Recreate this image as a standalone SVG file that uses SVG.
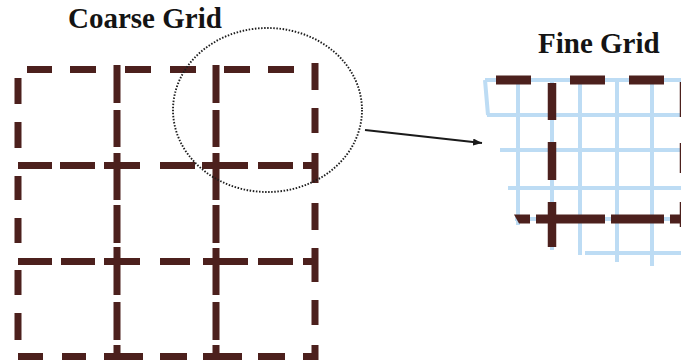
<svg xmlns="http://www.w3.org/2000/svg" width="681" height="362" viewBox="0 0 681 362">
  <defs>
    <style>
      .title { font-family: "Liberation Serif", "Times New Roman", serif; font-weight: bold; font-size: 29px; fill: #141414; }
      .bar { stroke: #4c201d; stroke-linecap: butt; fill: none; }
      .h { stroke-width: 7; }
      .v { stroke-width: 7; }
      .fh { stroke-width: 9; }
      .fv { stroke-width: 8.5; }
      .fine { stroke: #bddcf4; stroke-width: 4; fill: none; }
      .lens { fill: none; stroke: #1e1e1e; stroke-width: 1.9; stroke-dasharray: 1.5 1.6; }
      .conn { stroke: #1a1a1a; stroke-width: 1.8; fill: none; }
    </style>
    <marker id="arrowhead" markerUnits="userSpaceOnUse" markerWidth="10" markerHeight="8" refX="9" refY="3.5" orient="auto">
      <path d="M0,0 L9,3.5 L0,7 z" fill="#1a1a1a"/>
    </marker>
  </defs>

  <rect width="681" height="362" fill="#ffffff"/>

  <!-- headings -->
  <g id="coarse-title">
    <text class="title" x="68" y="28">Coarse Grid</text>
  </g>
  <g id="fine-title">
    <text class="title" x="538" y="53">Fine Grid</text>
  </g>

  <!-- coarse mesh: dashed cell boundaries -->
  <g id="coarse-grid" class="bar">
    <!-- horizontal rows -->
    <path class="h" d="M27,69.5H52 M70,69.5H96 M125,69.5H151 M170,69.5H196 M224,69.5H250 M268,69.5H294"/>
    <path class="h" d="M18,165.5H52 M60,165.5H95 M104,165.5H140 M160,165.5H195 M202,165.5H248 M258,165.5H293 M303,165.5H316"/>
    <path class="h" d="M18,261.5H52 M61,261.5H95 M104,261.5H140 M160,261.5H190 M203,261.5H248 M258,261.5H293 M303,261.5H316"/>
    <path class="h" d="M18,356.5H43 M62,356.5H86 M104,356.5H143 M160,356.5H187 M203,356.5H242 M258,356.5H285 M303,356.5H318"/>
    <!-- vertical columns -->
    <path class="v" d="M18,78V104 M18,122V148 M18,176V200 M18,218V243 M18,270V295 M18,313V340"/>
    <path class="v" d="M117,65V103 M117,110V147 M117,153V200 M117,205V243 M117,247V295 M117,302V340 M117,345V358"/>
    <path class="v" d="M216,65V103 M216,110V147 M216,153V200 M216,205V243 M216,248V295 M216,302V340 M216,345V358"/>
    <path class="v" d="M315,63V90 M315,108V133 M315,153V183 M315,203V230 M315,248V282 M315,300V325 M315,345V360"/>
  </g>

  <!-- zoom lens around the upper-right cell -->
  <g id="lens">
    <ellipse class="lens" cx="267.5" cy="110" rx="94.5" ry="82"/>
  </g>

  <!-- refined mesh -->
  <g id="fine-grid">
    <g class="fine">
      <path d="M485,80H681 M487,115H681 M500,150H681 M508,188H681 M515,219H681 M585,253H681"/>
      <path d="M485,80L488,115 M518,80V225 M552,80V250 M580,80V255 M617,80V262 M652,80V266"/>
    </g>
    <g class="bar">
      <path class="fh" d="M496,80H531 M570,80H605 M629,80H664"/>
      <path class="fv" d="M552,83V120 M552,142V180 M552,202V247"/>
      <path class="fh" d="M536,219H605 M611,219H664 M670,219H681"/>
      <path class="fv" d="M684,82V117 M684,143V173 M684,202V227"/>
    </g>
    <polygon points="514,214.5 530,214.5 530,223.5 519,223.5" fill="#4c201d"/>
  </g>

  <!-- connectors -->
  <g id="connectors">
    <line class="conn" x1="365" y1="130" x2="482" y2="143" marker-end="url(#arrowhead)"/>
  </g>
</svg>
